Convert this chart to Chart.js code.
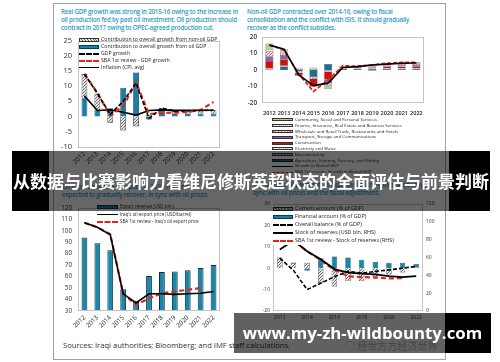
<!DOCTYPE html>
<html lang="en">
<head>
<meta charset="UTF-8">
<title>Iraq macro charts</title>
<script src="https://cdn.jsdelivr.net/npm/chart.js@4.4.1/dist/chart.umd.min.js"></script>
<style>
  body { margin: 0; width: 500px; height: 362px; background: #fff; position: relative; overflow: hidden; font-family: "Open Sans", sans-serif; }
  canvas, .abs { position: absolute; }
  #fig { left: 53px; top: 3px; width: 391px; height: 355px; border: 1px solid #a3a3a3; }
  .title { color: #2f9bc8; font-size: 6.2px; line-height: 8.2px; white-space: nowrap; font-weight: 600; letter-spacing: -0.2px; }
  .lg { white-space: nowrap; color: #222; }
  .lg div { display: flex; align-items: center; }
  .sw { display: inline-block; flex: none; margin-right: 2px; box-sizing: border-box; }
  .hatch { background: repeating-linear-gradient(45deg, #666 0 0.7px, #e6e6e6 0.7px 2px); border: 0.5px solid #333; }
  .dash { border-top: 2px dashed #000; height: 0; }
  .rdash { border-top: 2px dashed #e8231e; height: 0; }
  .solid { border-top: 1.6px solid #000; height: 0; }
</style>
</head>
<body>
<div id="fig" class="abs"></div>

<!-- titles -->
<div class="abs title" style="left:61px;top:8px;">Real GDP growth was strong in 2015-16 owing to the increase in<br>oil production fed by past oil investment. Oil production should<br>contract in 2017 owing to OPEC-agreed production cut.</div>
<div class="abs title" style="left:247px;top:8px;">Non-oil GDP contracted over 2014-16, owing to fiscal<br>consolidation and the conflict with ISIS. It should gradually<br>recover as the conflict subsides.</div>
<div class="abs title" style="left:62px;top:183px;">Oil export revenue collapsed in 2015-16 and is<br>expected to gradually recover, in sync with oil prices.</div>
<div class="abs title" style="left:253px;top:181px;">The balance of payments is expected to strengthen gradually, in<br>sync with oil prices and the fiscal adjustment.</div>

<canvas id="c1" width="170" height="145" style="left:56px;top:30px;"></canvas>
<canvas id="c2" width="190" height="95" style="left:240px;top:28px;"></canvas>
<canvas id="c3" width="170" height="142" style="left:56px;top:198px;"></canvas>
<canvas id="c4" width="195" height="124" style="left:250px;top:198px;"></canvas>

<!-- legends -->
<div class="abs lg" style="left:79px;top:36px;font-size:5.2px;line-height:7px;">
  <div><span class="sw hatch" style="width:20px;height:4px;"></span>Contribution to overall growth from non-oil GDP</div>
  <div><span class="sw" style="width:20px;height:4px;background:#1a7fa5;border:0.5px solid #0c3b52;"></span>Contribution to overall growth from oil GDP</div>
  <div><span class="sw dash" style="width:20px;"></span>GDP growth</div>
  <div><span class="sw rdash" style="width:20px;"></span>SBA 1st review - GDP growth</div>
  <div><span class="sw solid" style="width:20px;"></span>Inflation (CPI, avg)</div>
</div>

<div class="abs lg" style="left:272px;top:117px;font-size:4.3px;line-height:5.8px;">
  <div><span class="sw" style="width:21px;height:3px;background:#b3d196;border:0.5px solid #333;"></span>Community, Social and Personal Services</div>
  <div><span class="sw" style="width:21px;height:3px;background:repeating-linear-gradient(90deg,#e9b6c0 0 1px,#fff 1px 2px);border:0.5px solid #333;"></span>Finance, Insurance, Real Estate and Business Services</div>
  <div><span class="sw" style="width:21px;height:3px;background:repeating-linear-gradient(45deg,#c96a7c 0 0.8px,#f6dde2 0.8px 2px);border:0.5px solid #333;"></span>Wholesale and Retail Trade, Restaurants and Hotels</div>
  <div><span class="sw" style="width:21px;height:3px;background:#8a63ad;border:0.5px solid #333;"></span>Transport, Storage and Communications</div>
  <div><span class="sw" style="width:21px;height:3px;background:#d00e0e;border:0.5px solid #333;"></span>Construction</div>
  <div><span class="sw" style="width:21px;height:3px;background:repeating-linear-gradient(90deg,#c9c7a0 0 1px,#fbfbef 1px 2px);border:0.5px solid #333;"></span>Electricity and Water</div>
  <div><span class="sw hatch" style="width:21px;height:3px;"></span>Manufacturing</div>
  <div><span class="sw" style="width:21px;height:3px;background:#1f6f8e;border:0.5px solid #222;"></span>Agriculture, Hunting, Forestry, and Fishing</div>
  <div><span class="sw solid" style="width:21px;border-top-width:1.3px;"></span>Growth in Nonoil GDP</div>
  <div><span class="sw rdash" style="width:21px;border-top-width:1.5px;"></span>SBA 1st review - Growth in Nonoil GDP</div>
</div>

<div class="abs lg" style="left:97px;top:203px;font-size:4.5px;line-height:7.5px;">
  <div><span class="sw" style="width:21px;height:3.5px;background:#1a7fa5;border:0.5px solid #0c3b52;"></span>Export revenue (USD bln.)</div>
  <div><span class="sw solid" style="width:21px;"></span>Iraq's oil export price (USD/barrel)</div>
  <div><span class="sw rdash" style="width:21px;"></span>SBA 1st review - Iraq's oil export price</div>
</div>

<div class="abs lg" style="left:273px;top:205px;font-size:5.4px;line-height:7.9px;background:#fff;padding-right:2px;">
  <div><span class="sw hatch" style="width:20px;height:4px;"></span>Current account (% of GDP)</div>
  <div><span class="sw" style="width:20px;height:4px;background:#1a7fa5;border:0.5px solid #0c3b52;"></span>Financial account (% of GDP)</div>
  <div><span class="sw dash" style="width:20px;"></span>Overall balance (% of GDP)</div>
  <div><span class="sw solid" style="width:20px;border-top-width:2px;"></span>Stock of reserves (USD bln. RHS)</div>
  <div><span class="sw rdash" style="width:20px;"></span>SBA 1st review - Stock of reserves (RHS)</div>
</div>

<div class="abs" style="left:63px;top:340px;font-size:7.6px;color:#333;white-space:nowrap;">Sources: Iraqi authorities; Bloomberg; and IMF staff calculations.</div>
<div class="abs" style="left:345px;top:338px;font-size:10px;color:#b8b8b8;white-space:nowrap;font-family:'Noto Sans CJK SC';">◌ 经世方方经济世界</div>

<!-- overlays -->
<div class="abs" style="left:12px;top:151px;width:37px;height:60px;background:#000;"></div>
<div class="abs" style="left:49px;top:151px;width:400px;height:60px;background:rgba(0,0,0,0.6);"></div>
<div class="abs" style="left:449px;top:151px;width:41px;height:60px;background:#000;"></div>
<div class="abs" style="left:12px;top:168px;width:478px;text-align:center;color:#fff;font-weight:700;font-size:17px;line-height:26px;white-space:nowrap;font-family:'Noto Sans CJK SC';">从数据与比赛影响力看维尼修斯英超状态的全面评估与前景判断</div>

<div class="abs" style="left:234px;top:313px;width:211px;height:40px;background:rgba(0,0,0,0.62);"></div>
<div class="abs" style="left:445px;top:313px;width:46px;height:40px;background:#000;"></div>
<div class="abs" style="left:234px;top:320px;width:257px;text-align:center;color:#fff;font-weight:700;font-size:16.8px;line-height:26px;white-space:nowrap;font-family:'Open Sans';">www.my-zh-wildbounty.com</div>

<script>
const years = ['2012', '2013', '2014', '2015', '2016', '2017', '2018', '2019', '2020', '2021', '2022'];

// real GDP growth
const nonOilContrib = [8, 5.5, -2, -4.6, -3.3, 0.4, 0.5, 0.9, 1.0, 1.0, 1.1];
const oilContrib = [6, 2.1, 2.7, 9.5, 14.5, -1.0, 2.3, 0.9, 0.9, 1.0, 1.0];
const gdpGrowth = [14, 7.6, 0.7, 5, 11, -0.6, 2.8, 1.8, 1.9, 2.0, 2.1];
const sbaGdpGrowth = [14, 7.8, 0.2, 3.5, 11.2, 0.8, 1.2, 1.3, 1.5, 2.2, 4.8];
const inflation = [6.8, 2.0, 2.2, 1.4, 0.5, 2.0, 2.2, 2.1, 2.1, 2.1, 2.1];

// non-oil GDP growth by sector
const agri = [0, 2, -1, -4.5, 3.5, 0.5, 0.5, 0.6, 0.6, 0.6, 0.6];
const manuf = [0.5, 0.3, -0.5, -1, -0.5, 0.2, 0.2, -0.5, 0.3, 0.3, 0.3];
const elec = [0.3, 0.2, -0.2, 0.5, -0.5, 0.2, 0.2, 0.3, 0.3, 0.3, 0.3];
const constr = [4.5, 4, -1.5, -4.5, -5, 0.3, 0.4, 0.6, 0.8, 0.9, 1];
const transport = [3, 2.5, -0.5, -0.3, -2, 0.3, 0.4, 0.6, 0.6, 0.7, 0.7];
const wholesale = [3, 1.5, 0.6, 0.3, -1.5, 0.2, 0.3, 0.5, 0.6, 0.7, 0.7];
const finance = [1, 0.5, 0.4, 0.4, -0.3, 0.2, 0.3, 0.4, 0.4, 0.5, 0.5];
const community = [3.7, 1.5, 0.3, 0.3, -1.7, 0.3, 0.3, 0.5, 0.5, 0.6, 0.7];
const nonOilGrowth = [15, 12.5, -3, -9.5, -8, 1.5, 2, 3, 3.5, 4, 4.2];
const sbaNonOilGrowth = [15, 12, -2.5, -13, -6, 2.5, 2.2, 3, 4, 4.5, 4.5];

// exports
const exportRevenue = [94, 89, 83, 49, 39, 60.5, 64, 64.5, 65.5, 67.5, 70];
const oilPrice = [107, 103, 96.5, 45, 37, 45, 45, 44.5, 45, 45.5, 47];
const sbaOilPrice = [107, 103, 97, 45, 35.5, 41, 45.5, 47, 48.5, 50, null];

// balance of payments
const currentAccount = [5, 2.3, 2.5, -7, -8.5, -6, -6, -4, -3, -2, 0.5];
const financialAccount = [0, 0.4, -1.2, 4.7, 5.5, 5, 4, 3, 2.5, 2.5, 1.5];
const overallBalance = [4.7, -1, -10, -7, -4, -1.5, -2.3, -1.5, -0.8, 0, 0.8];
const reserves = [69, 79, 67, 58, 47, 43, 42, 41, 39, 38, 39];
const sbaReserves = [79, 79, 67, 57, 46, 39, 38, 37.5, 36.5, 37, null];

Chart.defaults.font.family = "'Open Sans', sans-serif";
Chart.defaults.color = '#222';
Chart.defaults.animation = false;
Chart.defaults.responsive = false;
Chart.defaults.devicePixelRatio = 1;
Chart.defaults.plugins.legend.display = false;
Chart.defaults.plugins.tooltip.enabled = false;

function pattern(bg, fg, size, vertical) {
  const c = document.createElement('canvas');
  c.width = c.height = size;
  const g = c.getContext('2d');
  g.fillStyle = bg; g.fillRect(0, 0, size, size);
  g.strokeStyle = fg; g.lineWidth = 1;
  g.beginPath();
  if (vertical) { g.moveTo(0.5, 0); g.lineTo(0.5, size); }
  else { g.moveTo(0, size); g.lineTo(size, 0); g.moveTo(-1, 1); g.lineTo(1, -1); g.moveTo(size - 1, size + 1); g.lineTo(size + 1, size - 1); }
  g.stroke();
  return g.createPattern(c, 'repeat');
}
const grayHatch = pattern('#e6e6e6', '#6a6a6a', 3);
const pinkHatch = pattern('#f6dde2', '#c96a7c', 3);
const pinkDots = pattern('#ffffff', '#e9b6c0', 2, true);
const beigeDots = pattern('#fbfbef', '#c9c7a0', 2, true);

const frame = {
  id: 'frame',
  afterDraw(chart) {
    const { ctx, chartArea: a } = chart;
    ctx.save();
    ctx.strokeStyle = '#c4c4c4';
    ctx.lineWidth = 1;
    ctx.strokeRect(Math.round(a.left) + 0.5, Math.round(a.top) + 0.5, Math.round(a.right - a.left) - 1, Math.round(a.bottom - a.top) - 1);
    ctx.restore();
  }
};

const noGrid = { display: false, drawTicks: false };
const line = (data, color, width, dash, stack) => ({
  type: 'line', data, borderColor: color, borderWidth: width, borderDash: dash,
  pointRadius: 0, fill: false, tension: 0, stack, order: 0
});

// chart 1
new Chart(document.getElementById('c1'), {
  type: 'bar',
  data: {
    labels: years,
    datasets: [
      line(gdpGrowth, '#000', 1.6, [4, 2], 'a'),
      line(sbaGdpGrowth, '#e8231e', 2.2, [5, 3], 'b'),
      line(inflation, '#000', 1.6, [], 'c'),
      { data: oilContrib, backgroundColor: '#1a7fa5', borderColor: '#0c3b52', borderWidth: 0.8, stack: 's', barPercentage: 0.45, categoryPercentage: 1, order: 1 },
      { data: nonOilContrib, backgroundColor: grayHatch, borderColor: '#333', borderWidth: 0.8, stack: 's', barPercentage: 0.45, categoryPercentage: 1, order: 1 }
    ]
  },
  options: {
    layout: { padding: { top: 7, right: 6 } },
    scales: {
      x: { stacked: true, grid: noGrid, border: { display: false },
        ticks: { font: { size: 6.5 }, minRotation: 45, maxRotation: 45, autoSkip: false, padding: 3 },
        afterFit: s => { s.height = 28; } },
      y: { stacked: true, min: -10, max: 25, grid: noGrid, border: { display: false },
        ticks: { stepSize: 5, font: { size: 7.5 }, padding: 6, color: '#333' },
        afterFit: s => { s.width = 22; } }
    }
  },
  plugins: [frame]
});

// chart 2
const sectorBar = (data, bg, bc) => ({ data, backgroundColor: bg, borderColor: bc || '#333', borderWidth: 0.5, stack: 's', barPercentage: 0.55, categoryPercentage: 1, order: 1 });
new Chart(document.getElementById('c2'), {
  type: 'bar',
  data: {
    labels: years,
    datasets: [
      line(nonOilGrowth, '#000', 1.6, [], 'a'),
      line(sbaNonOilGrowth, '#e8231e', 1.8, [4, 2], 'b'),
      sectorBar(agri, '#1f6f8e', '#17465a'),
      sectorBar(manuf, grayHatch),
      sectorBar(elec, beigeDots),
      sectorBar(constr, '#d00e0e', '#7a0b0b'),
      sectorBar(transport, '#8a63ad'),
      sectorBar(wholesale, pinkHatch),
      sectorBar(finance, pinkDots),
      sectorBar(community, '#b3d196', '#556b44')
    ]
  },
  options: {
    layout: { padding: { top: 5, right: 5 } },
    scales: {
      x: { stacked: true, grid: noGrid, border: { display: false },
        ticks: { font: { size: 5.6, weight: '600' }, maxRotation: 0, autoSkip: false, padding: 7, color: '#222' },
        afterFit: s => { s.height = 20; } },
      y: { stacked: true, min: -20, max: 20, grid: noGrid, border: { display: false },
        ticks: { stepSize: 5, font: { size: 6.3, weight: '600' }, padding: 5, color: '#333' },
        afterFit: s => { s.width = 22; } }
    }
  },
  plugins: [frame]
});

// chart 3
new Chart(document.getElementById('c3'), {
  type: 'bar',
  data: {
    labels: years,
    datasets: [
      line(oilPrice, '#000', 1.6, [], 'a'),
      line(sbaOilPrice, '#e8231e', 2.2, [5, 3], 'b'),
      { data: exportRevenue, backgroundColor: '#1a86a8', borderColor: '#0c2f3d', borderWidth: 1, barPercentage: 0.45, categoryPercentage: 1, order: 1 }
    ]
  },
  options: {
    layout: { padding: { top: 7, right: 6 } },
    scales: {
      x: { grid: noGrid, border: { display: false },
        ticks: { font: { size: 6.3 }, minRotation: 45, maxRotation: 45, autoSkip: false, padding: 3 },
        afterFit: s => { s.height = 29; } },
      y: { min: 30, max: 120, grid: noGrid, border: { display: false },
        ticks: { stepSize: 10, font: { size: 6.3 }, padding: 6, color: '#333' },
        afterFit: s => { s.width = 22; } }
    }
  },
  plugins: [frame]
});

// chart 4
new Chart(document.getElementById('c4'), {
  type: 'bar',
  data: {
    labels: years,
    datasets: [
      { ...line(overallBalance, '#000', 1.6, [4, 2], 'a'), yAxisID: 'y' },
      { ...line(reserves, '#000', 1.8, [], 'b'), yAxisID: 'y1' },
      { ...line(sbaReserves, '#e8231e', 2.2, [5, 3], 'c'), yAxisID: 'y1' },
      { data: currentAccount, backgroundColor: grayHatch, borderColor: '#333', borderWidth: 0.6, stack: 's', barPercentage: 0.4, categoryPercentage: 1, order: 1, yAxisID: 'y' },
      { data: financialAccount, backgroundColor: '#1a86a8', borderColor: '#0c3b52', borderWidth: 0.6, stack: 's', barPercentage: 0.4, categoryPercentage: 1, order: 1, yAxisID: 'y' }
    ]
  },
  options: {
    layout: { padding: { top: 5 } },
    scales: {
      x: { stacked: true, grid: noGrid, border: { display: false },
        ticks: { font: { size: 5 }, maxRotation: 0, autoSkip: false, padding: 4, color: '#333',
          callback: (v, i) => (i % 2 === 0 ? years[i] : '') },
        afterFit: s => { s.height = 11; } },
      y: { stacked: true, min: -20, max: 30, grid: noGrid, border: { display: false },
        ticks: { stepSize: 10, font: { size: 5 }, padding: 3, color: '#333' },
        afterFit: s => { s.width = 23; } },
      y1: { position: 'right', min: 0, max: 120, grid: noGrid, border: { display: false },
        ticks: { stepSize: 20, font: { size: 5 }, padding: 3, color: '#333' },
        afterFit: s => { s.width = 22; } }
    }
  },
  plugins: [frame]
});
</script>
</body>
</html>
